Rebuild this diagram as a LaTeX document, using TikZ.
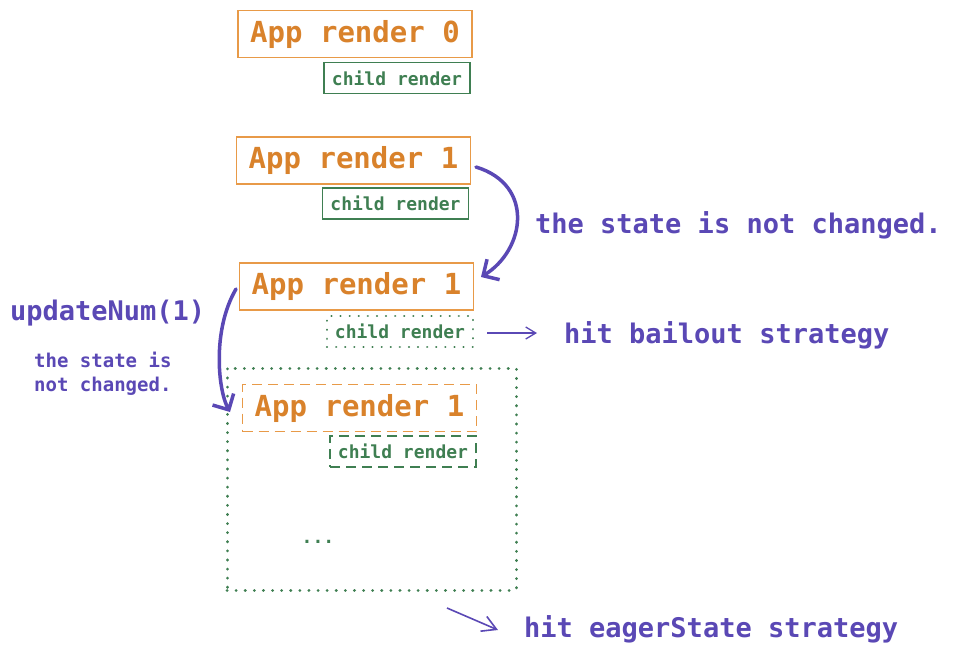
\documentclass[tikz,border=0pt]{standalone}
\usepackage{fontspec}
\setmonofont{DejaVu Sans Mono}
\usetikzlibrary{arrows.meta}
\definecolor{org}{HTML}{D9822B}
\definecolor{orgl}{HTML}{E89A48}
\definecolor{grn}{HTML}{3F7F52}
\definecolor{pur}{HTML}{5A48B5}
\tikzset{
  appbox/.style={draw=orgl, line width=1.6pt, text=org, font=\ttfamily\bfseries\fontsize{29}{32}\selectfont, inner sep=0pt, minimum width=234pt, minimum height=47pt},
  childbox/.style={draw=grn, line width=1.3pt, text=grn, font=\ttfamily\bfseries\fontsize{18}{20}\selectfont, inner sep=0pt, minimum width=146pt, minimum height=31pt},
  bigtxt/.style={text=pur, font=\ttfamily\bfseries\fontsize{27}{30}\selectfont, inner sep=0pt, anchor=west},
  smalltxt/.style={text=pur, font=\ttfamily\bfseries\fontsize{19}{24}\selectfont, inner sep=0pt, align=left, anchor=north west},
  bigarrow/.style={draw=pur, line width=3.5pt, line cap=round, -{Straight Barb[length=12pt,width=24pt,line width=3.5pt]}},
  thinarrow/.style={draw=pur, line width=1.3pt, -{Straight Barb[length=10pt,width=12pt]}},
  widearrow/.style={draw=pur, line width=1.6pt, -{Straight Barb[length=14pt,width=16pt]}},
  dotline/.style={line cap=round, dash pattern=on 0.1pt off 9pt},
  dashline/.style={dash pattern=on 10pt off 6pt},
}
\begin{document}
\begin{tikzpicture}[x=1pt,y=-1pt]
\useasboundingbox (0,0) rectangle (955,654);
\fill[white] (0,0) rectangle (955,654);

% group 0
\node[appbox] (a0) at (355,34) {\raisebox{-2pt}{App render 0}};
\node[childbox] (c0) at (397,78) {child render};

% group 1
\node[appbox] (a1) at (353.5,160.5) {\raisebox{-2pt}{App render 1}};
\node[childbox] (c1) at (395.5,203.5) {child render};

% group 2
\node[appbox] (a2) at (356.5,286.5) {\raisebox{-2pt}{App render 1}};
\node[childbox, dotline, line width=2.2pt] (c2) at (400,331.5) {child render};

% eager box
\node[draw=grn, dotline, line width=3pt, minimum width=289pt, minimum height=222pt, inner sep=0pt] (big) at (371.5,479) {};
\node[appbox, dashline] (a3) at (359.5,408) {\raisebox{-2pt}{App render 1}};
\node[childbox, dashline] (c3) at (403,451.5) {child render};
\node[text=grn, font=\ttfamily\bfseries\fontsize{18}{20}\selectfont, inner sep=0pt] (dots) at (318,542) {...};

% labels
\node[bigtxt] (t1) at (535,225) {the state is not changed.};
\node[bigtxt] (t2) at (10,313) {updateNum(1)};
\node[smalltxt] (t3) at (34,352) {the state is\\not changed.};
\node[bigtxt] (t4) at (564,335) {hit bailout strategy};
\node[bigtxt] (t5) at (524,629) {hit eagerState strategy};

% arrows
\coordinate (p1) at (476,167);
\coordinate (q1) at (481,277);
\draw[bigarrow] (p1) .. controls (535,185) and (525,250) .. (q1);

\coordinate (p2) at (236,289);
\coordinate (q2) at (230,412);
\draw[bigarrow] (p2) .. controls (212,330) and (218,390) .. (q2);

\coordinate (p3) at (487,333);
\coordinate (q3) at (537,333);
\draw[thinarrow] (p3) -- (q3);

\coordinate (p4) at (447,608);
\coordinate (q4) at (498,630);
\draw[widearrow] (p4) -- (q4);
\end{tikzpicture}
\end{document}
